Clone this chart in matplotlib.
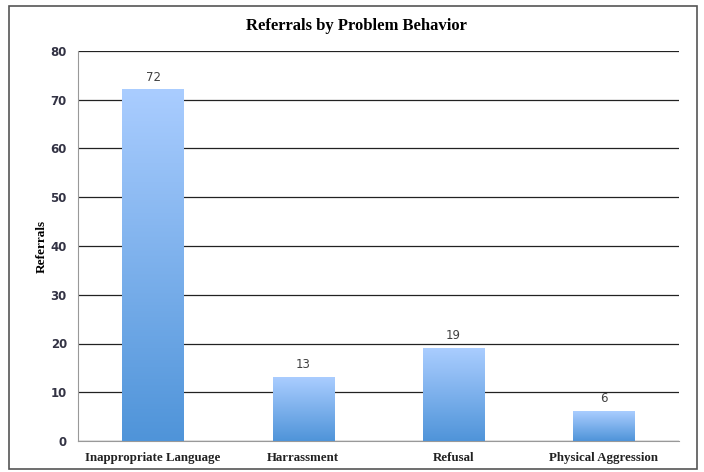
import numpy as np
import matplotlib
matplotlib.use("Agg")
import matplotlib.pyplot as plt
from matplotlib.colors import LinearSegmentedColormap
from matplotlib.patches import Rectangle

# datos del grafico
categorias = ["Inappropriate Language", "Harrassment", "Refusal", "Physical Aggression"]
referrals = [72, 13, 19, 6]

fig = plt.figure(figsize=(7.04, 4.72), dpi=100)
ax = fig.add_axes([78 / 704, 1 - 441 / 472, 601 / 704, 390 / 472])

# borde exterior de la figura
fig.patches.append(Rectangle((9 / 704, 1 - 469 / 472), 688 / 704, 463 / 472,
                             transform=fig.transFigure, fill=False,
                             edgecolor="#555555", linewidth=1.2))

x = np.arange(len(categorias))
barras = ax.bar(x, referrals, width=0.41, color="none", zorder=3)

# degradado vertical en cada barra
cmap = LinearSegmentedColormap.from_list("azul", ["#4F94D9", "#AACDFF"])
grad = np.linspace(0, 1, 256).reshape(-1, 1)
for b in barras:
    x0, y0 = b.get_x(), b.get_y()
    w, h = b.get_width(), b.get_height()
    ax.imshow(grad, cmap=cmap, origin="lower", aspect="auto",
              extent=(x0, x0 + w, y0, y0 + h), zorder=3)

for xi, v in zip(x, referrals):
    ax.text(xi, v + 1.3, str(v), ha="center", va="bottom", fontsize=8.5,
            color="#404040", family="DejaVu Sans")

serif = "Liberation Serif"

ax.set_xlim(-0.5, len(categorias) - 0.5)
ax.set_ylim(0, 80)
ax.set_yticks(range(0, 81, 10))
ax.set_xticks(x)
ax.set_xticklabels(categorias, family=serif, fontweight="bold",
                   fontsize=9.3, color="#222222")
for t in ax.get_yticklabels():
    t.set_fontweight("bold")
    t.set_fontsize(8.5)
    t.set_color("#333344")
ax.tick_params(axis="y", length=0, pad=8)
ax.tick_params(axis="x", length=0, pad=8)

ax.grid(axis="y", color="#222222", linewidth=0.9, zorder=0)
for lado in ["top", "right"]:
    ax.spines[lado].set_visible(False)
ax.spines["left"].set_color("#999999")
ax.spines["bottom"].set_color("#999999")

ax.set_ylabel("Referrals", family=serif, fontweight="bold", fontsize=9.5, labelpad=2)
fig.text(356 / 704, 1 - 26 / 472, "Referrals by Problem Behavior", ha="center", va="center",
         family=serif, fontweight="bold", fontsize=12)

fig.savefig("out.png", dpi=100)
